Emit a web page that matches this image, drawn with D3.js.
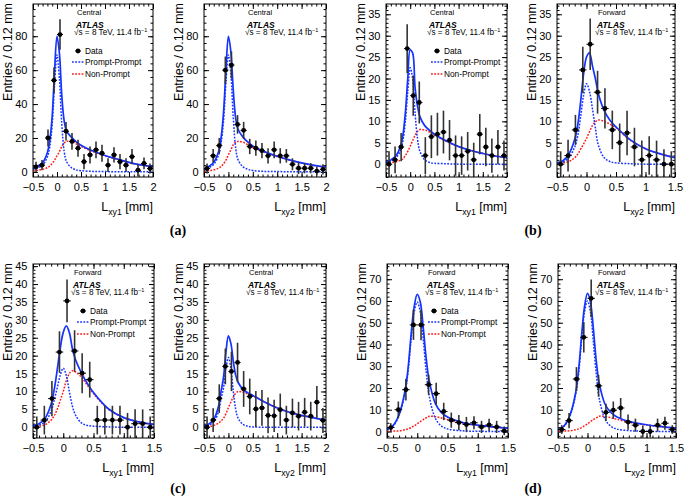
<!DOCTYPE html>
<html>
<head>
<meta charset="utf-8">
<script src="https://cdn.jsdelivr.net/npm/d3@7"></script>
<style>
body { margin: 0; background: #fff; }
svg { font-family: "Liberation Sans", Arial, Helvetica, sans-serif; }
</style>
</head>
<body>
<div id="chart"></div>
<script>
// bin centres (0.125 mm bins)
const binsWide = [-0.4375, -0.3125, -0.1875, -0.0625, 0.0625, 0.1875, 0.3125, 0.4375, 0.5625, 0.6875,
                  0.8125, 0.9375, 1.0625, 1.1875, 1.3125, 1.4375, 1.5625, 1.6875, 1.8125, 1.9375];
const binsNarrow = [-0.4375, -0.3125, -0.1875, -0.0625, 0.0625, 0.1875, 0.3125, 0.4375, 0.5625, 0.6875,
                    0.8125, 0.9375, 1.0625, 1.1875, 1.3125, 1.4375];
const curveXWide = [-0.5, -0.4, -0.3, -0.2, -0.15, -0.1, -0.05, 0, 0.05, 0.1, 0.15, 0.2, 0.3, 0.4, 0.5, 0.75, 1, 1.25, 1.5, 1.75, 2];
const curveXNarrow = [-0.5, -0.4, -0.3, -0.2, -0.15, -0.1, -0.05, 0, 0.05, 0.1, 0.15, 0.2, 0.3, 0.4, 0.5, 0.75, 1, 1.25, 1.5];

const xTicksWide = [-0.5, 0, 0.5, 1, 1.5, 2];
const xTicksNarrow = [-0.5, 0, 0.5, 1, 1.5];
const yTicks80 = [0, 20, 40, 60, 80];
const yTicks35 = [0, 5, 10, 15, 20, 25, 30, 35];
const yTicks45 = [0, 5, 10, 15, 20, 25, 30, 35, 40, 45];
const yTicks70 = [0, 10, 20, 30, 40, 50, 60, 70];

// (a) Lxy1 central
const a1Data = [3, 4, 20, 54, 81, 24, 18, 14, 6, 10, 13, 11, 4, 10, 6, 4, 9, 1, 5, 2];
const a1Err = [3, 3, 5, 7.5, 9, 5.5, 5, 5, 4.5, 5, 5, 5, 4, 4.5, 4.5, 4, 4.5, 3.5, 3.5, 3];
const a1PP = [1.5, 2.5, 4, 9, 15, 28, 52, 69, 55, 28, 12, 6, 2.5, 1.2, 0.7, 0.3, 0.2, 0.1, 0.1, 0.1, 0.1];
const a1NP = [0.5, 1, 1.5, 2.5, 3.5, 5, 7, 9.5, 12, 15, 17, 18, 18, 16.5, 15, 12, 9.5, 7.5, 5.5, 4, 3];
const a1Tot = [2, 3.5, 5.5, 11.5, 18.5, 33, 60, 80, 70, 45, 30, 24, 20.5, 17.7, 15.7, 12.3, 9.7, 7.6, 5.6, 4.1, 3.1];

// (a) Lxy2 central
const a2Data = [2, 9.5, 15.5, 60, 63, 28, 24.5, 15, 14, 12.5, 9.5, 13, 9.5, 9.5, 4.5, 2.2, 2.2, 2.2, 0.5, 1.5];
const a2Err = [3, 4, 4.5, 8, 8, 5.5, 5, 4.5, 4.5, 4.5, 4.5, 5, 4.5, 4, 3.5, 3.5, 3, 3, 2.5, 3];
const a2PP = [1, 2.5, 4.5, 10, 17, 30, 53, 69, 58, 32, 14, 7, 3, 1.5, 0.8, 0.3, 0.2, 0.1, 0.1, 0.1, 0.1];
const a2NP = [0.3, 0.7, 1.2, 2.2, 3.2, 4.8, 7, 10, 13, 16, 17.5, 18, 17.5, 16, 14.5, 11.5, 9, 7, 5.2, 3.8, 2.8];
const a2Tot = [1.5, 3.2, 5.7, 12, 20, 35, 60, 80, 71, 48, 31.5, 25, 20.5, 17.5, 15.3, 11.8, 9.2, 7.1, 5.3, 3.9, 2.9];

// (b) Lxy1 central
const b1Data = [0, 1, 4, 27, 16, 14.4, 2, 6.4, 7, 7.5, 5.6, 2, 2, 3, 1, 7, 4, 2, 4, 2];
const b1Err = [3, 3.1, 3.3, 5.7, 4.7, 4.9, 4.3, 5, 5, 5, 4.7, 4.7, 4.5, 4.5, 4, 4.7, 4.5, 4, 4, 3.5];
const b1PP = [0.3, 0.7, 1.4, 3.2, 5.5, 10, 17, 22.5, 20, 12, 6, 3, 1, 0.4, 0.2, 0.1, 0, 0, 0, 0, 0];
const b1NP = [0.1, 0.3, 0.5, 0.9, 1.3, 2, 3, 4.2, 5.5, 6.7, 7.6, 8.1, 8, 7.5, 6.8, 5.3, 4.1, 3.2, 2.5, 1.9, 1.5];
const b1Tot = [0.4, 1, 1.9, 4.1, 6.8, 12, 20, 26.7, 26, 18, 13.6, 11.1, 9, 7.9, 7, 5.4, 4.1, 3.2, 2.5, 1.9, 1.5];

// (b) Lxy2 forward
const b2Data = [0, 2, 8, 22, 28, 16.8, 13, 8, 5, 7.3, 4, 1, 2, 1, 0, 0];
const b2Err = [3, 3.7, 3.5, 5.4, 6, 5, 4.7, 4.5, 4.5, 5.2, 4.5, 4.5, 4.5, 4.5, 3.5, 3];
const b2PP = [0.1, 0.5, 1.5, 4, 6.5, 11, 16, 18.8, 17, 13, 8.5, 4.5, 1.5, 0.6, 0.3, 0.1, 0, 0, 0];
const b2NP = [0.1, 0.3, 0.6, 1.5, 2.3, 3.5, 4.7, 6, 7.6, 9, 9.9, 10.3, 10, 9.3, 8.5, 5.5, 3.6, 2.4, 1.5];
const b2Tot = [0.3, 0.8, 2.3, 5.8, 9, 14.5, 21, 25, 26, 23, 20, 16.5, 12.5, 10.2, 8.7, 5.6, 3.6, 2.4, 1.5];

// (c) Lxy1 forward
const c1Data = [0, 2, 8, 21, 35.3, 21.3, 15.1, 13.3, 2, 2, 2, 2, 0, 1, 1, 0];
const c1Err = [3, 4, 4.9, 5.8, 6, 5.8, 5.6, 5, 4, 4, 4, 4, 4, 4, 4, 3];
const c1PP = [0.2, 0.6, 1.5, 4.5, 7.5, 11, 14.5, 16.5, 14.5, 10, 6, 3.5, 1.2, 0.5, 0.3, 0.1, 0, 0, 0];
const c1NP = [0.1, 0.3, 0.7, 2, 3.2, 5, 7.5, 10, 13, 15, 15.8, 15.5, 14, 11.7, 9.4, 5, 2.7, 1.5, 0.8];
const c1Tot = [0.5, 1, 2.5, 6.5, 10.5, 16, 22, 26.5, 28.3, 26.5, 22, 19, 15.2, 12.2, 9.7, 5.1, 2.7, 1.5, 0.8];

// (c) Lxy2 central
const c2Data = [0, 2, 8, 17, 15.6, 18.1, 10.7, 8.6, 5.1, 5.4, 3.3, 3.2, 4.9, 2, 4, 3.1, 4.2, 3.1, 7, 1.9];
const c2Err = [3, 3.3, 4, 5, 5.5, 5.5, 5, 5, 5, 5, 5, 4.5, 4.5, 4, 4, 4, 4, 4, 4.5, 3.5];
const c2PP = [0.2, 0.6, 1.5, 4.5, 8, 11, 16.5, 19.5, 16.5, 10, 5, 2.5, 0.8, 0.3, 0.1, 0, 0, 0, 0, 0, 0];
const c2NP = [0.1, 0.2, 0.5, 1.2, 1.8, 2.5, 3.8, 5.5, 7, 8.5, 9.5, 10, 9.8, 9.3, 8.8, 7, 5.4, 4.2, 3.3, 2.6, 2];
const c2Tot = [0.5, 0.9, 2.2, 6, 10, 14, 21, 25.5, 23.5, 18.5, 14.5, 12.5, 10.6, 9.6, 8.9, 7, 5.4, 4.2, 3.3, 2.6, 2];

// (d) Lxy1 forward
const d1Data = [1.8, 10, 19.2, 49, 49, 21.5, 17.4, 9.2, 5.2, 4.1, 3.2, 4, 2.1, 3, 2.1, 0.3];
const d1Err = [2, 3.8, 5, 6.9, 7, 4.6, 5, 4, 3.5, 3.5, 3.5, 3, 2.8, 2.8, 2.8, 2];
const d1PP = [0.8, 2.5, 7.5, 18, 28, 43, 55, 59.5, 55, 42, 27, 16, 6, 2.5, 1.2, 0.3, 0.1, 0, 0];
const d1NP = [0.1, 0.2, 0.3, 0.8, 1.2, 1.8, 2.6, 3.5, 4.5, 5.5, 6.3, 7, 6.8, 6.2, 5.5, 3.8, 2.8, 2, 1.5];
const d1Tot = [0.9, 2.7, 7.8, 19, 29.5, 45, 57.5, 63, 59.5, 47.5, 33, 23, 12.8, 8.7, 6.7, 4.1, 2.9, 2.1, 1.5];

// (d) Lxy2 forward
const d2Data = [0.9, 5, 24.1, 43.3, 61.2, 21, 8.8, 9.8, 10.8, 4.3, 2.9, 0, 0, 2.9, 3.8, 0.9];
const d2Err = [2, 3.5, 5.5, 7, 8.7, 5, 4, 4, 4.6, 3.5, 3, 2.8, 2.8, 3, 3, 2];
const d2PP = [0.7, 2.3, 7, 17, 27, 42, 55, 60, 55, 41, 26, 15, 5.5, 2.3, 1.1, 0.3, 0.1, 0, 0];
const d2NP = [0.1, 0.2, 0.3, 0.8, 1.2, 1.8, 2.6, 3.5, 4.5, 5.5, 6.3, 7, 6.9, 6.3, 5.6, 4, 3, 2.2, 1.5];
const d2Tot = [0.8, 2.5, 7.3, 18, 28.5, 44, 57.5, 63.5, 59.5, 47, 32, 22, 12.4, 8.6, 6.7, 4.3, 3.1, 2.2, 1.5];

const BLUE = "#1433ff";
const RED = "#ff1a1a";

const panels = [
  {left: 33, top: 4, w: 120, h: 173, xMax: 2, yDom: [-3, 99], yTicks: yTicks80, yMinor: 4, region: "Central", sub: "xy1", legend: 39, tdx: 43,
   bins: binsWide, cx: curveXWide, data: a1Data, err: a1Err, pp: a1PP, np: a1NP, tot: a1Tot, xTicks: xTicksWide},
  {left: 204, top: 4, w: 122, h: 173, xMax: 2, yDom: [-3, 99], yTicks: yTicks80, yMinor: 4, region: "Central", sub: "xy2", legend: null, tdx: 43,
   bins: binsWide, cx: curveXWide, data: a2Data, err: a2Err, pp: a2PP, np: a2NP, tot: a2Tot, xTicks: xTicksWide},
  {left: 386, top: 4, w: 121, h: 173, xMax: 2, yDom: [-3, 37.4], yTicks: yTicks35, yMinor: 1, region: "Central", sub: "xy1", legend: 45, tdx: 43,
   bins: binsWide, cx: curveXWide, data: b1Data, err: b1Err, pp: b1PP, np: b1NP, tot: b1Tot, xTicks: xTicksWide},
  {left: 557, top: 4, w: 118, h: 173, xMax: 1.5, yDom: [-3, 37.4], yTicks: yTicks35, yMinor: 1, region: "Forward", sub: "xy2", legend: null, tdx: 40,
   bins: binsNarrow, cx: curveXNarrow, data: b2Data, err: b2Err, pp: b2PP, np: b2NP, tot: b2Tot, xTicks: xTicksNarrow},
  {left: 33, top: 264, w: 121, h: 174, xMax: 1.5, yDom: [-3, 45.6], yTicks: yTicks45, yMinor: 1, region: "Forward", sub: "xy1", legend: 44, tdx: 40,
   bins: binsNarrow, cx: curveXNarrow, data: c1Data, err: c1Err, pp: c1PP, np: c1NP, tot: c1Tot, xTicks: xTicksNarrow},
  {left: 204, top: 264, w: 122, h: 174, xMax: 2, yDom: [-3, 45.6], yTicks: yTicks45, yMinor: 1, region: "Central", sub: "xy2", legend: null, tdx: 44,
   bins: binsWide, cx: curveXWide, data: c2Data, err: c2Err, pp: c2PP, np: c2NP, tot: c2Tot, xTicks: xTicksWide},
  {left: 387, top: 264, w: 121, h: 174, xMax: 1.5, yDom: [-3, 77], yTicks: yTicks70, yMinor: 2, region: "Forward", sub: "xy1", legend: 41, tdx: 40,
   bins: binsNarrow, cx: curveXNarrow, data: d1Data, err: d1Err, pp: d1PP, np: d1NP, tot: d1Tot, xTicks: xTicksNarrow},
  {left: 558, top: 264, w: 118, h: 174, xMax: 1.5, yDom: [-3, 77], yTicks: yTicks70, yMinor: 2, region: "Forward", sub: "xy2", legend: null, tdx: 39,
   bins: binsNarrow, cx: curveXNarrow, data: d2Data, err: d2Err, pp: d2PP, np: d2NP, tot: d2Tot, xTicks: xTicksNarrow}
];
const subLabels = [["(a)", 178, 235], ["(b)", 533, 235], ["(c)", 178, 493], ["(d)", 533, 493]];

const svg = d3.select("#chart").append("svg").attr("width", 685).attr("height", 501);
const fmt = d => String(d).replace("-", "\u2212");

function styleAxis(g) {
  g.select(".domain").remove();
  g.selectAll("line").attr("stroke", "#000").attr("stroke-width", 1);
  g.selectAll("text").attr("font-size", 11).attr("font-family", null).attr("fill", "#000");
}

panels.forEach((p, i) => {
  const W = p.w;
  const x = d3.scaleLinear().domain([-0.5, p.xMax]).range([p.left, p.left + W]);
  const y = d3.scaleLinear().domain(p.yDom).range([p.top + p.h, p.top]);
  const g = svg.append("g");

  svg.append("clipPath").attr("id", "clip" + i).append("rect")
    .attr("x", p.left).attr("y", p.top).attr("width", W).attr("height", p.h);

  // axes: major + minor ticks on all four sides, pointing inwards
  const xMinor = d3.range(-0.5, p.xMax + 0.001, 0.1);
  const yMinor = d3.range(Math.ceil(p.yDom[0] / p.yMinor) * p.yMinor, p.yDom[1], p.yMinor);
  g.append("g").attr("transform", `translate(0,${p.top + p.h})`)
    .call(d3.axisBottom(x).tickValues(p.xTicks).tickSize(-5).tickPadding(6.6).tickFormat(fmt)).call(styleAxis);
  g.append("g").attr("transform", `translate(0,${p.top + p.h})`)
    .call(d3.axisBottom(x).tickValues(xMinor).tickSize(-2.5).tickFormat("")).call(styleAxis);
  g.append("g").attr("transform", `translate(0,${p.top})`)
    .call(d3.axisTop(x).tickValues(p.xTicks).tickSize(-5).tickFormat("")).call(styleAxis);
  g.append("g").attr("transform", `translate(0,${p.top})`)
    .call(d3.axisTop(x).tickValues(xMinor).tickSize(-2.5).tickFormat("")).call(styleAxis);
  g.append("g").attr("transform", `translate(${p.left},0)`)
    .call(d3.axisLeft(y).tickValues(p.yTicks).tickSize(-5).tickPadding(5.5)).call(styleAxis);
  g.append("g").attr("transform", `translate(${p.left},0)`)
    .call(d3.axisLeft(y).tickValues(yMinor).tickSize(-2.5).tickFormat("")).call(styleAxis);
  g.append("g").attr("transform", `translate(${p.left + W},0)`)
    .call(d3.axisRight(y).tickValues(p.yTicks).tickSize(-5).tickFormat("")).call(styleAxis);
  g.append("g").attr("transform", `translate(${p.left + W},0)`)
    .call(d3.axisRight(y).tickValues(yMinor).tickSize(-2.5).tickFormat("")).call(styleAxis);

  const plot = g.append("g").attr("clip-path", `url(#clip${i})`);
  const line = d3.line().x((d, j) => x(p.cx[j])).y(d => y(d)).curve(d3.curveCatmullRom.alpha(0.5));

  plot.append("path").datum(p.np).attr("d", line).attr("fill", "none")
    .attr("stroke", RED).attr("stroke-width", 1.5).attr("stroke-dasharray", "1.8,1.4");
  plot.append("path").datum(p.pp).attr("d", line).attr("fill", "none")
    .attr("stroke", BLUE).attr("stroke-width", 1.5).attr("stroke-dasharray", "1.8,1.4");
  plot.append("path").datum(p.tot).attr("d", line).attr("fill", "none")
    .attr("stroke", BLUE).attr("stroke-width", 1.7);

  // data points with error bars
  const pts = plot.selectAll("g.pt").data(p.data).join("g");
  pts.append("line")
    .attr("x1", (d, j) => x(p.bins[j])).attr("x2", (d, j) => x(p.bins[j]))
    .attr("y1", (d, j) => y(d - p.err[j])).attr("y2", (d, j) => y(d + p.err[j]))
    .attr("stroke", "#333").attr("stroke-width", 1.6);
  pts.append("line")
    .attr("x1", (d, j) => x(p.bins[j] - 0.0625)).attr("x2", (d, j) => x(p.bins[j] + 0.0625))
    .attr("y1", d => y(d)).attr("y2", d => y(d))
    .attr("stroke", "#000").attr("stroke-width", 1);
  pts.append("circle")
    .attr("cx", (d, j) => x(p.bins[j])).attr("cy", d => y(d)).attr("r", 2.4).attr("fill", "#000");

  // frame
  g.append("rect").attr("x", p.left).attr("y", p.top).attr("width", W).attr("height", p.h)
    .attr("fill", "none").attr("stroke", "#000").attr("stroke-width", 1);

  // axis titles
  g.append("text")
    .attr("transform", `translate(${p.left - 21},${p.top - 1}) rotate(-90)`)
    .attr("text-anchor", "end").attr("font-size", 12.5).text("Entries / 0.12 mm");
  const xt = g.append("text").attr("x", p.left + W).attr("y", p.top + p.h + 34)
    .attr("text-anchor", "end").attr("font-size", 12.5);
  xt.append("tspan").text("L");
  xt.append("tspan").attr("font-size", 8.75).attr("dy", 3.5).text(p.sub);
  xt.append("tspan").attr("dy", -3.5).text(" [mm]");

  // labels inside the frame
  const tx = p.left + p.tdx;
  g.append("text").attr("x", tx + 1).attr("y", p.top + 11).attr("font-size", 7.5).text(p.region);
  g.append("text").attr("x", tx).attr("y", p.top + 23.5).attr("font-size", 8.5)
    .attr("font-weight", "bold").attr("font-style", "italic").text("ATLAS");
  const en = g.append("text").attr("x", tx - 2).attr("y", p.top + 31).attr("font-size", 8.2);
  en.append("tspan").text("\u221As = 8 TeV, 11.4 fb");
  en.append("tspan").attr("font-size", 5.5).attr("dy", -3).text("\u22121");

  if (p.legend !== null) {
    const lx = p.left + p.legend;
    const rows = [p.top + 47, p.top + 58, p.top + 70];
    g.append("line").attr("x1", lx + 3).attr("x2", lx + 9).attr("y1", rows[0]).attr("y2", rows[0]).attr("stroke", "#000");
    g.append("circle").attr("cx", lx + 6).attr("cy", rows[0]).attr("r", 2.4).attr("fill", "#000");
    g.append("line").attr("x1", lx).attr("x2", lx + 12).attr("y1", rows[1]).attr("y2", rows[1])
      .attr("stroke", BLUE).attr("stroke-width", 1.5).attr("stroke-dasharray", "1.8,1.4");
    g.append("line").attr("x1", lx).attr("x2", lx + 12).attr("y1", rows[2]).attr("y2", rows[2])
      .attr("stroke", RED).attr("stroke-width", 1.5).attr("stroke-dasharray", "1.8,1.4");
    ["Data", "Prompt-Prompt", "Non-Prompt"].forEach((t, k) => {
      g.append("text").attr("x", lx + 13).attr("y", rows[k] + 3).attr("font-size", 8.3).text(t);
    });
  }
});

subLabels.forEach(([t, sx, sy]) => {
  svg.append("text").attr("x", sx).attr("y", sy).attr("text-anchor", "middle")
    .attr("font-family", "'Liberation Serif', 'Times New Roman', serif")
    .attr("font-weight", "bold").attr("font-size", 14).text(t);
});
</script>
</body>
</html>
